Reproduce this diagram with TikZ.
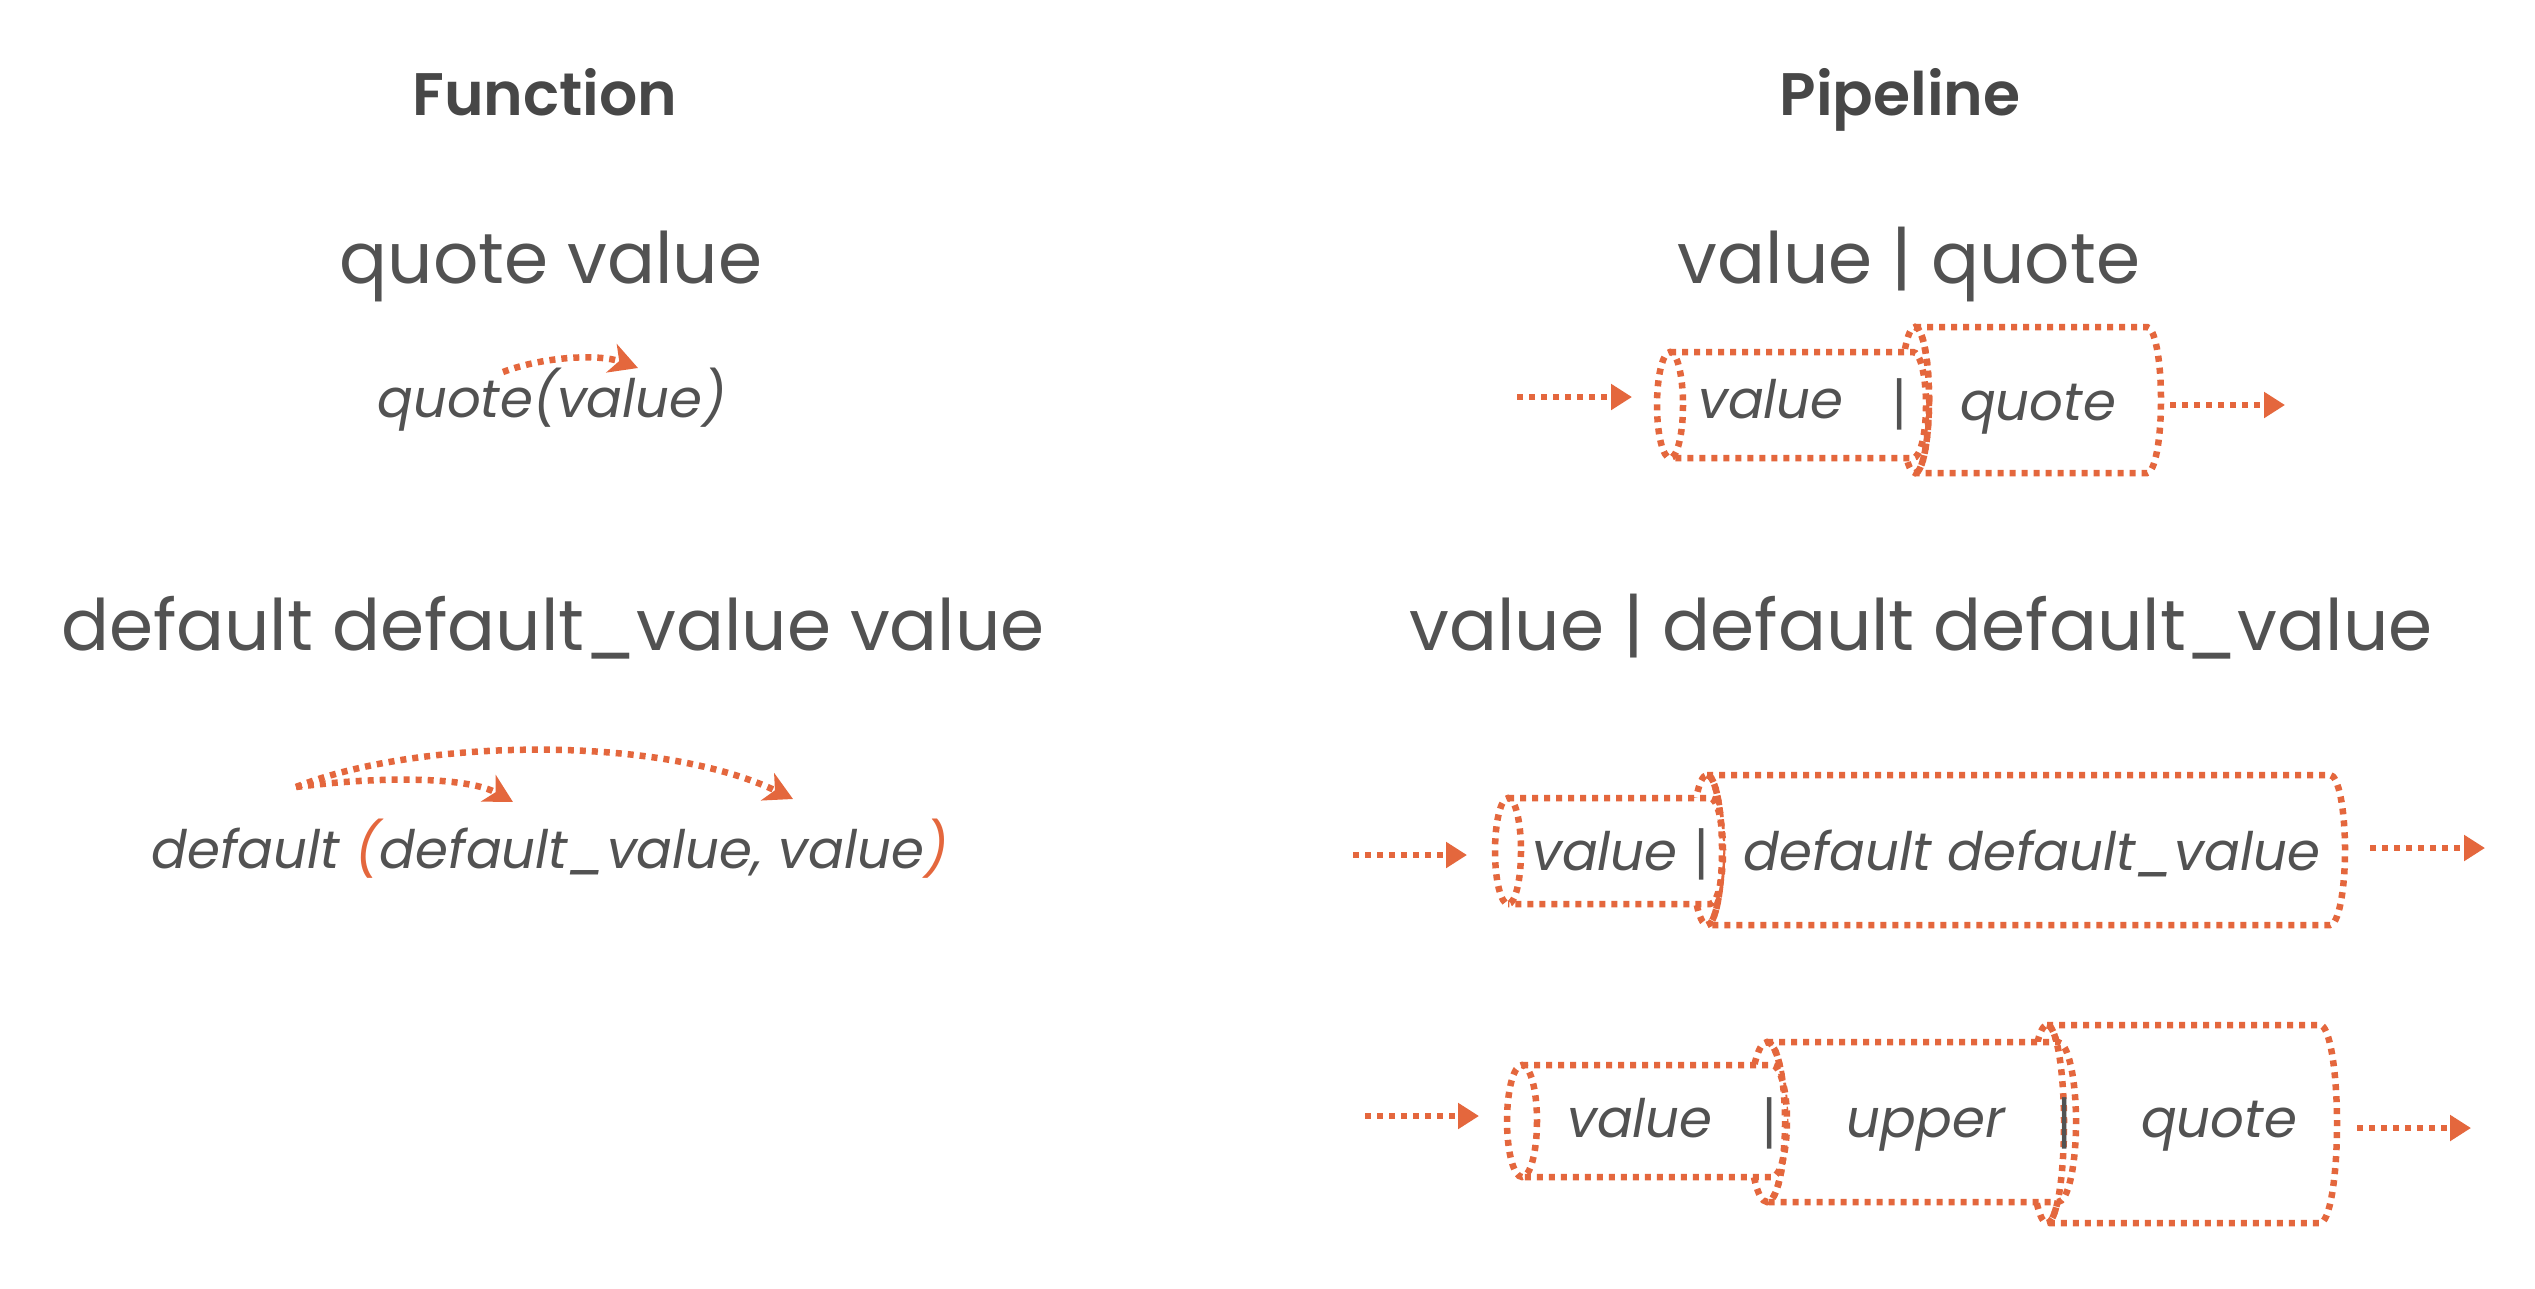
\documentclass[tikz,border=0pt]{standalone}
\usepackage{fontspec}
\setmainfont{Poppins}
\newfontfamily\barfont{Liberation Sans}
\newfontfamily\headfont{Poppins SemiBold}
\usetikzlibrary{arrows.meta}
\definecolor{accent}{HTML}{E4673D}
\definecolor{ink}{HTML}{525252}
\definecolor{headink}{HTML}{474747}
\tikzset{
 dotline/.style={draw=accent, line width=6.5pt, dash pattern=on 6pt off 6pt},
 flowarrow/.style={dotline, -{Triangle[length=21pt,width=25pt]}},
 callarrow/.style={dotline, -{Stealth[length=28pt,width=30pt,inset=8pt]}},
 head/.style={text=headink, font=\fontsize{60}{70}\selectfont\headfont, anchor=base, inner sep=0pt},
 code/.style={text=ink, font=\fontsize{71}{80}\selectfont, anchor=base, inner sep=0pt},
 callcode/.style={text=ink, font=\fontsize{53}{62}\selectfont\itshape, anchor=base, inner sep=0pt},
 boxcode/.style={text=ink, font=\fontsize{53}{62}\selectfont\itshape, anchor=base, inner sep=0pt},
 bar/.style={text=ink, font=\fontsize{55}{62}\selectfont\barfont, anchor=base, inner sep=0pt},
}
% cylinder lying on its side: left cap x, right end x, centre y, half height, cap x radius
\newcommand\pipecyl[5]{%
 \fill[white] (#1,#3-#4) -- (#2,#3-#4) arc[start angle=-90,end angle=90,x radius=#5,y radius=#4] -- (#1,#3+#4) arc[start angle=90,end angle=270,x radius=#5,y radius=#4] -- cycle;
 \draw[dotline] (#1,#3-#4) -- (#2,#3-#4) arc[start angle=-90,end angle=90,x radius=#5,y radius=#4] -- (#1,#3+#4);
 \draw[dotline] (#1,#3) ellipse [x radius=#5,y radius=#4];
}
% inner (right) half of a cap, shown in front of the previous stage
\newcommand\capfront[4]{%
 \draw[dotline] (#1,#2-#3) arc[start angle=-90,end angle=90,x radius=#4,y radius=#3];
}
\begin{document}
\begin{tikzpicture}[x=1pt,y=-1pt]
\fill[white] (0,0) rectangle (2535,1288);
\useasboundingbox (0,0) rectangle (2535,1288);
% headings
\node[head] (fhead) at (545,115) {Function};
\node[head] (phead) at (1900,115) {Pipeline};
% function column
\node[code] (fq) at (551,283) {quote value};
\node[callcode] (fqcall) at (552,417) {quote(value)};
\node[code] (fd) at (553,650) {default default\_value value};
\node[callcode] (fdcall) at (550,868) {default \textcolor{accent}{(}default\_value, value\textcolor{accent}{)}};
\coordinate (qa0) at (503,372);
\coordinate (qa1) at (638,368);
\draw[callarrow] (qa0) .. controls (545,356) and (600,354) .. (qa1);
\coordinate (da0) at (296,787);
\coordinate (da1) at (513,802);
\coordinate (da2) at (793,799);
\draw[callarrow] (da0) .. controls (390,775) and (470,778) .. (da1);
\draw[callarrow] (da0) .. controls (420,738) and (660,735) .. (da2);
% pipeline column
\node[code] (pq) at (1909,283) {value | quote};
\node[code] (pd) at (1921,650) {value | default default\_value};
% row 1 (later stages drawn first, earlier ones in front)
\pipecyl{1915}{2147}{400}{73}{14}
\pipecyl{1670}{1913}{405}{53}{13}
\capfront{1915}{400}{73}{14}
\coordinate (r1in) at (1517,397);
\coordinate (r1a) at (1632,397);
\coordinate (r1b) at (2170,405);
\coordinate (r1out) at (2285,405);
\draw[flowarrow] (r1in) -- (r1a);
\draw[flowarrow] (r1b) -- (r1out);
\node[boxcode] (r1v) at (1771,418) {value};
\node[bar] (r1p) at (1900,418) {|};
\node[boxcode] (r1q) at (2038,420) {quote};
% row 2
\pipecyl{1707}{2330}{850}{75}{15}
\pipecyl{1508}{1710}{851}{53}{13}
\capfront{1707}{850}{75}{15}
\coordinate (r2in) at (1353,855);
\coordinate (r2a) at (1467,855);
\coordinate (r2b) at (2370,848);
\coordinate (r2out) at (2485,848);
\draw[flowarrow] (r2in) -- (r2a);
\draw[flowarrow] (r2b) -- (r2out);
\node[boxcode] (r2v) at (1605,870) {value};
\node[bar] (r2p) at (1702,868) {|};
\node[boxcode] (r2d) at (2032,870) {default default\_value};
% row 3
\pipecyl{2047}{2320}{1124}{99}{17}
\pipecyl{1767}{2058}{1122}{80}{18}
\pipecyl{1522}{1772}{1121}{56}{15}
\capfront{1767}{1122}{80}{18}
\capfront{2047}{1124}{99}{17}
\coordinate (r3in) at (1365,1116);
\coordinate (r3a) at (1479,1116);
\coordinate (r3b) at (2357,1128);
\coordinate (r3out) at (2471,1128);
\draw[flowarrow] (r3in) -- (r3a);
\draw[flowarrow] (r3b) -- (r3out);
\node[boxcode] (r3v) at (1640,1137) {value};
\node[bar] (r3p1) at (1770,1137) {|};
\node[boxcode] (r3u) at (1926,1137) {upper};
\node[bar] (r3p2) at (2065,1137) {|};
\node[boxcode] (r3q) at (2219,1137) {quote};
\end{tikzpicture}
\end{document}
